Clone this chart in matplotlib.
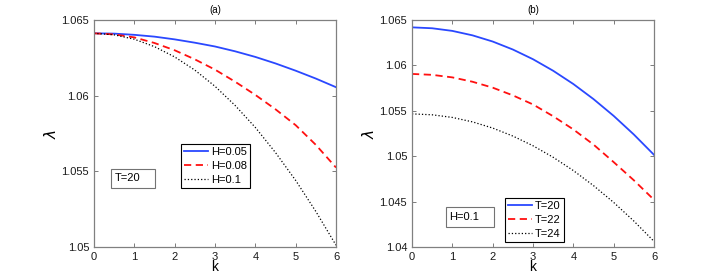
import matplotlib
matplotlib.use("Agg")
import matplotlib.pyplot as plt
from matplotlib.patches import Rectangle

k = [0, 0.5, 1, 1.5, 2, 2.5, 3, 3.5, 4, 4.5, 5, 5.5, 6]

# panel (a): T=20, different H
lam_h005 = [1.06412, 1.06410, 1.06402, 1.06390, 1.06372, 1.06350, 1.06325,
            1.06293, 1.06256, 1.06213, 1.06165, 1.06113, 1.06056]
lam_h008 = [1.06412, 1.06405, 1.06385, 1.06348, 1.06300, 1.06240, 1.06172,
            1.06092, 1.06005, 1.05910, 1.05805, 1.05675, 1.05525]
lam_h01 = [1.06412, 1.06402, 1.06373, 1.06324, 1.06256, 1.06169, 1.06062,
           1.05935, 1.05790, 1.05624, 1.05440, 1.05235, 1.05012]

# panel (b): H=0.1, different T
lam_t20 = [1.06419, 1.06409, 1.06380, 1.06331, 1.06263, 1.06175, 1.06068,
           1.05941, 1.05795, 1.05629, 1.05444, 1.05239, 1.05015]
lam_t22 = [1.05906, 1.05896, 1.05868, 1.05820, 1.05755, 1.05670, 1.05570,
           1.05440, 1.05295, 1.05128, 1.04935, 1.04735, 1.04520]
lam_t24 = [1.05466, 1.05456, 1.05427, 1.05378, 1.05310, 1.05222, 1.05115,
           1.04988, 1.04842, 1.04676, 1.04491, 1.04286, 1.04062]

labels_a = ["H=0.05", "H=0.08", "H=0.1"]
labels_b = ["T=20", "T=22", "T=24"]

W, H = 722, 279
fig = plt.figure(figsize=(W / 100, H / 100), dpi=100)
plt.rcParams['font.family'] = ['Liberation Sans', 'DejaVu Sans']

ax1 = fig.add_axes([94 / W, 1 - 247 / H, 242 / W, 227 / H])
ax2 = fig.add_axes([412 / W, 1 - 247 / H, 242 / W, 227 / H])

styles = [dict(color='#2a48ff', ls='-', lw=1.3),
          dict(color='#ff1010', ls='--', lw=1.3, dashes=(4, 2.5)),
          dict(color='k', ls=':', lw=0.9)]


def style_axes(ax, ylim, yticks, ylabels, title):
    ax.set_xlim(0, 6)
    ax.set_ylim(*ylim)
    ax.set_xticks(range(7))
    ax.set_yticks(yticks)
    ax.set_yticklabels(ylabels)
    ax.tick_params(direction='in', length=3, width=0.6, labelsize=8,
                   colors='0.4', labelcolor='0.1', top=True, right=True)
    for s in ax.spines.values():
        s.set_color('0.5')
        s.set_linewidth(0.9)
    ax.set_xlabel('k', fontsize=10, labelpad=-1)
    ax.set_ylabel(r'$\lambda$', fontsize=11, labelpad=2)
    ax.set_title(title, fontsize=7, pad=5)


for y, lab, st in zip([lam_h005, lam_h008, lam_h01], labels_a, styles):
    ax1.plot(k, y, label=lab, **st)
for y, lab, st in zip([lam_t20, lam_t22, lam_t24], labels_b, styles):
    ax2.plot(k, y, label=lab, **st)

style_axes(ax1, (1.05, 1.065), [1.05, 1.055, 1.06, 1.065],
           ['1.05', '1.055', '1.06', '1.065'], '(a)')
style_axes(ax2, (1.04, 1.065), [1.04, 1.045, 1.05, 1.055, 1.06, 1.065],
           ['1.04', '1.045', '1.05', '1.055', '1.06', '1.065'], '(b)')

for ax, anchor in [(ax1, (0.36, 0.26)), (ax2, (0.384, 0.022))]:
    leg = ax.legend(loc='lower left', bbox_to_anchor=anchor, fontsize=8,
                    fancybox=False, framealpha=1, edgecolor='k',
                    handlelength=2.1, borderpad=0.3, labelspacing=0.35,
                    handletextpad=0.27, borderaxespad=0)
    leg.get_frame().set_linewidth(0.8)

# matlab-style annotation text boxes
for ax, txt, rect, pos in [(ax1, 'T=20', (0.070, 0.26, 0.182, 0.084), (0.087, 0.302)),
                           (ax2, 'H=0.1', (0.140, 0.088, 0.199, 0.088), (0.153, 0.132))]:
    ax.add_patch(Rectangle(rect[:2], rect[2], rect[3], transform=ax.transAxes,
                           fc='white', ec='0.45', lw=0.8, zorder=4))
    ax.text(pos[0], pos[1], txt, transform=ax.transAxes, fontsize=8,
            va='center', ha='left', zorder=5)

fig.savefig('out.png', dpi=100)
